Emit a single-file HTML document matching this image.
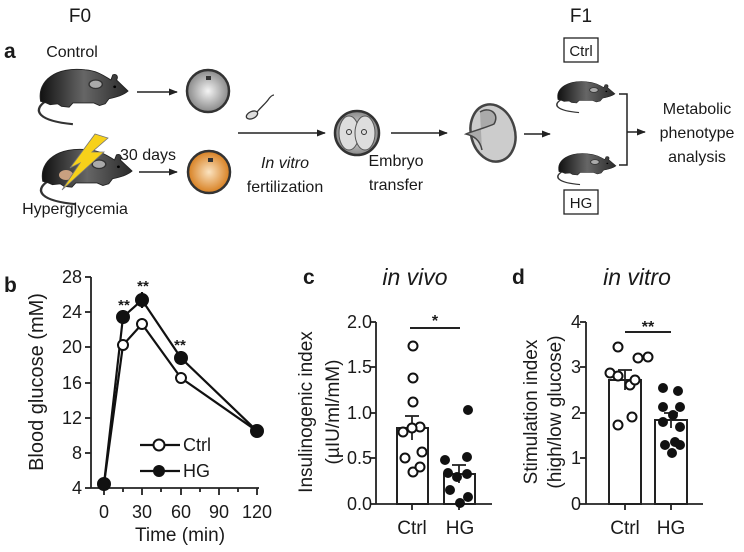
<!DOCTYPE html>
<html><head><meta charset="utf-8"><style>
html,body{margin:0;padding:0;background:#fff;}
svg{display:block;}
text{font-family:"Liberation Sans",Arial,sans-serif;fill:#1a1a1a;}
</style></head><body>
<svg width="744" height="552" viewBox="0 0 744 552" xmlns="http://www.w3.org/2000/svg">
<defs>
<linearGradient id="mg" x1="0" x2="1" y1="0" y2="0">
<stop offset="0" stop-color="#111"/><stop offset="0.5" stop-color="#666"/><stop offset="1" stop-color="#2a2a2a"/></linearGradient>
<radialGradient id="eg" cx="0.5" cy="0.5" r="0.5"><stop offset="0" stop-color="#f4f4f4"/><stop offset="1" stop-color="#888"/></radialGradient>
<radialGradient id="og" cx="0.5" cy="0.5" r="0.5"><stop offset="0" stop-color="#fbe3c0"/><stop offset="1" stop-color="#d77f20"/></radialGradient>
<g id="mouse">
<path d="M12,46 C0,56 5,68 42,72" fill="none" stroke="#333" stroke-width="2.5"/>
<path d="M8,45 C4,20 25,4 55,8 C68,9 76,16 82,20 L84,14 C88,12 90,16 88,20 L100,33 C95,38 88,40 80,42 L76,48 L70,50 L64,47 L42,47 L38,52 L30,51 L26,48 L18,49 L14,47 Z" fill="url(#mg)" stroke="#222" stroke-width="1"/>
<ellipse cx="66" cy="25" rx="7" ry="5" fill="#aaa" stroke="#333" stroke-width="1.5"/>
<circle cx="86" cy="28" r="1.5" fill="#000"/>
</g>
<marker id="ah" viewBox="0 0 10 10" refX="9" refY="5" markerWidth="6" markerHeight="6" orient="auto"><path d="M0,1 L10,5 L0,9 Z" fill="#222"/></marker>
</defs>

<!-- Panel a -->
<text x="4" y="58" font-size="21" font-weight="bold">a</text>
<text x="80" y="22" font-size="19" text-anchor="middle">F0</text>
<text x="72" y="57" font-size="16" text-anchor="middle">Control</text>
<use href="#mouse" transform="translate(33,63) scale(0.95,0.85)"/>
<use href="#mouse" transform="translate(35,143) scale(0.97,0.85)"/>
<ellipse cx="66" cy="175" rx="7" ry="5" fill="#c9a080"/>
<path d="M70,168 L95,134 L108,138 L92,152 L104,152 L62,190 L80,163 Z" fill="#f7d11a" stroke="#777" stroke-width="0.8"/>
<text x="120" y="160" font-size="16">30 days</text>
<text x="75" y="214" font-size="16" text-anchor="middle">Hyperglycemia</text>
<line x1="137" y1="92" x2="177" y2="92" stroke="#222" stroke-width="1.5" marker-end="url(#ah)"/>
<line x1="139" y1="172" x2="177" y2="172" stroke="#222" stroke-width="1.5" marker-end="url(#ah)"/>
<circle cx="208" cy="91" r="21" fill="url(#eg)" stroke="#333" stroke-width="2.5"/>
<rect x="206" y="76" width="5" height="4" fill="#333"/>
<circle cx="209" cy="172" r="21" fill="url(#og)" stroke="#333" stroke-width="2.5"/>
<rect x="208" y="158" width="5" height="4" fill="#333"/>
<ellipse cx="252" cy="115" rx="6" ry="3.5" fill="#ddd" stroke="#333" stroke-width="1.3" transform="rotate(-25 252 115)"/>
<path d="M257,112 C262,106 265,104 268,100 C270,97 272,95 274,95" fill="none" stroke="#333" stroke-width="1.3"/>
<line x1="238" y1="133" x2="325" y2="133" stroke="#222" stroke-width="1.5" marker-end="url(#ah)"/>
<text x="285" y="168" font-size="16" text-anchor="middle" font-style="italic">In vitro</text>
<text x="285" y="192" font-size="16" text-anchor="middle">fertilization</text>
<circle cx="357" cy="133" r="22" fill="url(#eg)" stroke="#333" stroke-width="2.5"/>
<ellipse cx="349" cy="133" rx="10" ry="17" fill="#ddd" stroke="#555" stroke-width="1"/>
<ellipse cx="365" cy="133" rx="10" ry="17" fill="#ddd" stroke="#555" stroke-width="1"/>
<circle cx="349" cy="132" r="2.5" fill="none" stroke="#333"/>
<circle cx="364" cy="132" r="2.5" fill="none" stroke="#333"/>
<line x1="391" y1="133" x2="447" y2="133" stroke="#222" stroke-width="1.5" marker-end="url(#ah)"/>
<text x="396" y="166" font-size="16" text-anchor="middle">Embryo</text>
<text x="396" y="190" font-size="16" text-anchor="middle">transfer</text>
<ellipse cx="493" cy="133" rx="22" ry="29" fill="#ccc" stroke="#444" stroke-width="2.5" transform="rotate(-15 493 133)"/>
<path d="M480,112 C490,106 500,114 494,124 C485,128 470,132 466,134 C474,136 480,140 482,150" fill="#aaa" stroke="#444" stroke-width="1.5"/>
<line x1="524" y1="134" x2="550" y2="134" stroke="#222" stroke-width="1.5" marker-end="url(#ah)"/>
<text x="581" y="22" font-size="19" text-anchor="middle">F1</text>
<rect x="564" y="38" width="34" height="24" fill="none" stroke="#222" stroke-width="1.3"/>
<text x="581" y="56" font-size="15" text-anchor="middle">Ctrl</text>
<use href="#mouse" transform="translate(553,78) scale(0.62,0.48)"/>
<use href="#mouse" transform="translate(554,150) scale(0.62,0.48)"/>
<rect x="564" y="190" width="34" height="24" fill="none" stroke="#222" stroke-width="1.3"/>
<text x="581" y="208" font-size="15" text-anchor="middle">HG</text>
<path d="M619,94 L627,94 L627,165 L619,165" fill="none" stroke="#222" stroke-width="1.5"/>
<line x1="627" y1="132" x2="645" y2="132" stroke="#222" stroke-width="1.5" marker-end="url(#ah)"/>
<text x="697" y="114" font-size="16" text-anchor="middle">Metabolic</text>
<text x="697" y="138" font-size="16" text-anchor="middle">phenotype</text>
<text x="697" y="162" font-size="16" text-anchor="middle">analysis</text>

<!-- Panel b -->
<text x="4" y="292" font-size="21" font-weight="bold">b</text>
<g stroke="#222" stroke-width="1.8" fill="none">
<line x1="91" y1="277" x2="91" y2="488"/>
<line x1="91" y1="488" x2="259" y2="488"/>
<line x1="85" y1="277" x2="91" y2="277"/><line x1="85" y1="312" x2="91" y2="312"/><line x1="85" y1="347" x2="91" y2="347"/><line x1="85" y1="383" x2="91" y2="383"/><line x1="85" y1="418" x2="91" y2="418"/><line x1="85" y1="453" x2="91" y2="453"/><line x1="85" y1="488" x2="91" y2="488"/>
<line x1="104" y1="488" x2="104" y2="495"/><line x1="123" y1="488" x2="123" y2="492"/><line x1="142" y1="488" x2="142" y2="495"/><line x1="161" y1="488" x2="161" y2="492"/><line x1="181" y1="488" x2="181" y2="495"/><line x1="200" y1="488" x2="200" y2="492"/><line x1="219" y1="488" x2="219" y2="495"/><line x1="238" y1="488" x2="238" y2="492"/><line x1="257" y1="488" x2="257" y2="495"/>
</g>
<g font-size="18" text-anchor="end">
<text x="82" y="283">28</text><text x="82" y="318">24</text><text x="82" y="353">20</text><text x="82" y="389">16</text><text x="82" y="424">12</text><text x="82" y="459">8</text><text x="82" y="494">4</text>
</g>
<g font-size="18" text-anchor="middle">
<text x="104" y="518">0</text><text x="142" y="518">30</text><text x="181" y="518">60</text><text x="219" y="518">90</text><text x="257" y="518">120</text>
</g>
<text x="180" y="541" font-size="19" text-anchor="middle">Time (min)</text>
<text transform="translate(43,382) rotate(-90)" font-size="20" text-anchor="middle">Blood glucose (mM)</text>
<g stroke="#111" stroke-width="2.2" fill="none">
<polyline points="104,484 123,345 142,324 181,378 257,431"/>
<polyline points="104,484 123,317 142,300 181,358 257,431"/>
<line x1="123" y1="310" x2="123" y2="324"/><line x1="142" y1="292" x2="142" y2="308"/><line x1="181" y1="351" x2="181" y2="365"/>
</g>
<g stroke="#111" stroke-width="2">
<circle cx="123" cy="345" r="5" fill="#fff"/><circle cx="142" cy="324" r="5" fill="#fff"/><circle cx="181" cy="378" r="5" fill="#fff"/>
<circle cx="104" cy="484" r="6" fill="#111"/><circle cx="123" cy="317" r="6" fill="#111"/><circle cx="142" cy="300" r="6" fill="#111"/><circle cx="181" cy="358" r="6" fill="#111"/><circle cx="257" cy="431" r="6" fill="#111"/>
</g>
<g font-size="15" font-weight="bold" text-anchor="middle"><text x="124" y="310">**</text><text x="143" y="291">**</text><text x="180" y="350">**</text></g>
<g stroke="#111" stroke-width="2.2"><line x1="140" y1="445" x2="180" y2="445"/><line x1="140" y1="471" x2="180" y2="471"/></g>
<circle cx="159" cy="445" r="5.5" fill="#fff" stroke="#111" stroke-width="2"/>
<circle cx="159" cy="471" r="6" fill="#111"/>
<text x="183" y="451" font-size="18">Ctrl</text>
<text x="183" y="477" font-size="18">HG</text>

<!-- Panel c -->
<text x="303" y="284" font-size="21" font-weight="bold">c</text>
<text x="415" y="285" font-size="23" font-style="italic" text-anchor="middle">in vivo</text>
<text transform="translate(312,412) rotate(-90)" font-size="19" text-anchor="middle">Insulinogenic index</text>
<text transform="translate(339,412) rotate(-90)" font-size="19" text-anchor="middle">(µIU/ml/mM)</text>
<g stroke="#222" stroke-width="1.8" fill="none">
<line x1="376" y1="322" x2="376" y2="504"/><line x1="376" y1="504" x2="492" y2="504"/>
<line x1="370" y1="322" x2="376" y2="322"/><line x1="370" y1="367" x2="376" y2="367"/><line x1="370" y1="413" x2="376" y2="413"/><line x1="370" y1="458" x2="376" y2="458"/><line x1="370" y1="504" x2="376" y2="504"/>
<line x1="412" y1="504" x2="412" y2="510"/><line x1="459" y1="504" x2="459" y2="510"/>
<rect x="397" y="428" width="31" height="76" stroke-width="2"/>
<rect x="444" y="474" width="31" height="30" stroke-width="2"/>
<line x1="412" y1="416" x2="412" y2="440"/><line x1="405" y1="416" x2="419" y2="416"/>
<line x1="459" y1="465" x2="459" y2="483"/><line x1="452" y1="465" x2="466" y2="465"/>
<line x1="410" y1="328" x2="460" y2="328" stroke-width="2"/>
</g>
<text x="435" y="326" font-size="16" font-weight="bold" text-anchor="middle">*</text>
<g font-size="18" text-anchor="end">
<text x="372" y="328">2.0</text><text x="372" y="373">1.5</text><text x="372" y="419">1.0</text><text x="372" y="464">0.5</text><text x="372" y="510">0.0</text>
</g>
<text x="412" y="534" font-size="19" text-anchor="middle">Ctrl</text>
<text x="460" y="534" font-size="19" text-anchor="middle">HG</text>
<g fill="#fff" stroke="#111" stroke-width="2">
<circle cx="413" cy="346" r="4.5"/><circle cx="413" cy="378" r="4.5"/><circle cx="413" cy="402" r="4.5"/><circle cx="403" cy="432" r="4.5"/><circle cx="420" cy="427" r="4.5"/><circle cx="412" cy="428" r="4.5"/><circle cx="405" cy="458" r="4.5"/><circle cx="422" cy="452" r="4.5"/><circle cx="413" cy="472" r="4.5"/><circle cx="420" cy="467" r="4.5"/>
</g>
<g fill="#111">
<circle cx="468" cy="410" r="5"/><circle cx="445" cy="460" r="5"/><circle cx="467" cy="457" r="5"/><circle cx="448" cy="473" r="5"/><circle cx="467" cy="474" r="5"/><circle cx="457" cy="477" r="5"/><circle cx="468" cy="497" r="5"/><circle cx="450" cy="490" r="5"/><circle cx="460" cy="503" r="5"/>
</g>

<!-- Panel d -->
<text x="512" y="284" font-size="21" font-weight="bold">d</text>
<text x="637" y="285" font-size="23" font-style="italic" text-anchor="middle">in vitro</text>
<text transform="translate(537,412) rotate(-90)" font-size="19" text-anchor="middle">Stimulation index</text>
<text transform="translate(561,412) rotate(-90)" font-size="19" text-anchor="middle">(high/low glucose)</text>
<g stroke="#222" stroke-width="1.8" fill="none">
<line x1="586" y1="322" x2="586" y2="504"/><line x1="586" y1="504" x2="703" y2="504"/>
<line x1="580" y1="322" x2="586" y2="322"/><line x1="580" y1="367" x2="586" y2="367"/><line x1="580" y1="413" x2="586" y2="413"/><line x1="580" y1="458" x2="586" y2="458"/><line x1="580" y1="504" x2="586" y2="504"/>
<line x1="625" y1="504" x2="625" y2="510"/><line x1="671" y1="504" x2="671" y2="510"/>
<rect x="609" y="380" width="32" height="124" stroke-width="2"/>
<rect x="655" y="420" width="32" height="84" stroke-width="2"/>
<line x1="625" y1="370" x2="625" y2="390"/><line x1="618" y1="370" x2="632" y2="370"/>
<line x1="671" y1="413" x2="671" y2="428"/><line x1="664" y1="413" x2="678" y2="413"/>
<line x1="625" y1="332" x2="671" y2="332" stroke-width="2"/>
</g>
<text x="648" y="332" font-size="16" font-weight="bold" text-anchor="middle">**</text>
<g font-size="18" text-anchor="end">
<text x="581" y="328">4</text><text x="581" y="373">3</text><text x="581" y="419">2</text><text x="581" y="464">1</text><text x="581" y="510">0</text>
</g>
<text x="625" y="534" font-size="19" text-anchor="middle">Ctrl</text>
<text x="671" y="534" font-size="19" text-anchor="middle">HG</text>
<g fill="#fff" stroke="#111" stroke-width="2">
<circle cx="618" cy="347" r="4.5"/><circle cx="638" cy="358" r="4.5"/><circle cx="648" cy="357" r="4.5"/><circle cx="610" cy="373" r="4.5"/><circle cx="618" cy="376" r="4.5"/><circle cx="630" cy="385" r="4.5"/><circle cx="635" cy="380" r="4.5"/><circle cx="618" cy="425" r="4.5"/><circle cx="632" cy="417" r="4.5"/>
</g>
<g fill="#111">
<circle cx="663" cy="388" r="5"/><circle cx="678" cy="391" r="5"/><circle cx="680" cy="407" r="5"/><circle cx="663" cy="407" r="5"/><circle cx="673" cy="415" r="5"/><circle cx="663" cy="422" r="5"/><circle cx="680" cy="427" r="5"/><circle cx="665" cy="445" r="5"/><circle cx="680" cy="445" r="5"/><circle cx="672" cy="453" r="5"/><circle cx="675" cy="442" r="5"/>
</g>
</svg>
</body></html>
